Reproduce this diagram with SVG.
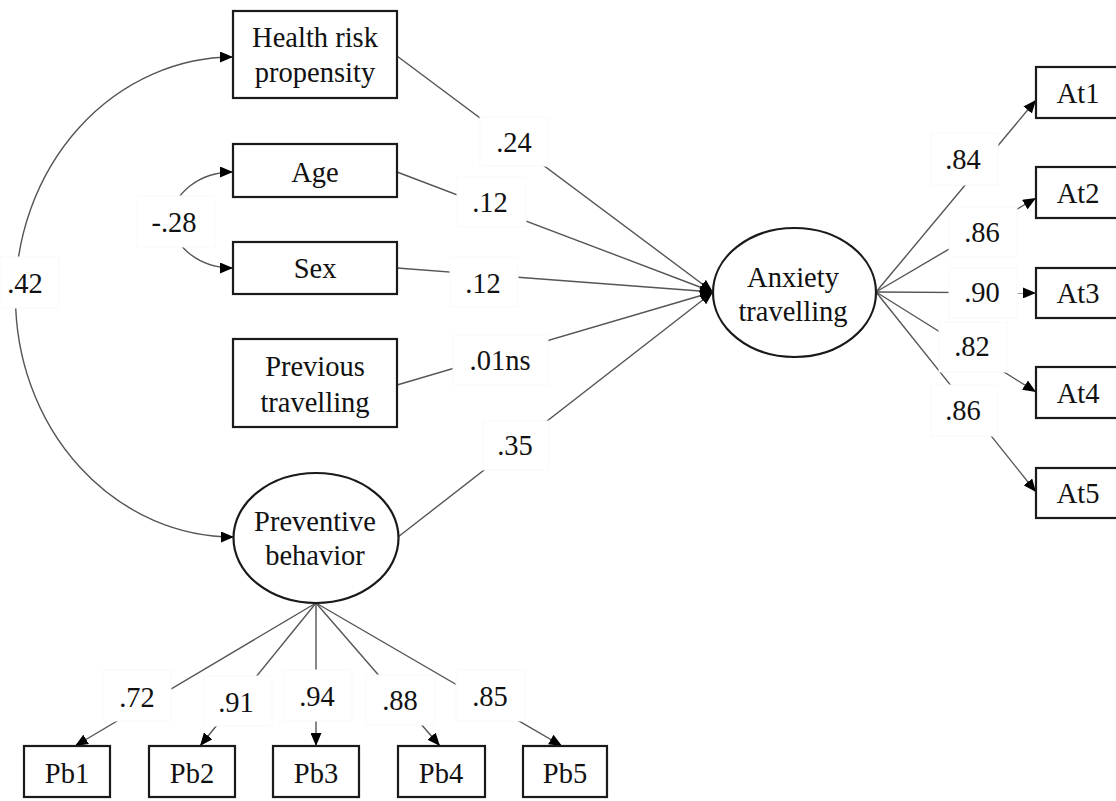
<svg xmlns="http://www.w3.org/2000/svg" width="1116" height="801" viewBox="0 0 1116 801">
<style>
.box{fill:#fff;stroke:#1a1a1a;stroke-width:2.2}
.ell{fill:#fff;stroke:#1a1a1a;stroke-width:2.2}
.t{font-family:"Liberation Serif","Times New Roman",serif;font-size:28.5px;fill:#111;text-anchor:middle}
.c{fill:none;stroke:#555;stroke-width:1.4}
.lb{fill:#fff;stroke:#f9f9f9;stroke-width:1}
</style>
<defs>
<marker id="ah" markerUnits="userSpaceOnUse" markerWidth="14" markerHeight="11" refX="13" refY="5.5" orient="auto-start-reverse">
<path d="M0,0 L13,5.5 L0,11 z" fill="#000"/>
</marker>
</defs>
<rect width="1116" height="801" fill="#fff"/>
<g id="connectors">
<path class="c" d="M233,57 A218,240 0 0 0 234,537" marker-start="url(#ah)" marker-end="url(#ah)"/>
<path class="c" d="M233,172 A61,48 0 0 0 233,268" marker-start="url(#ah)" marker-end="url(#ah)"/>
<line class="c" x1="397" y1="56" x2="713" y2="292" marker-end="url(#ah)"/>
<line class="c" x1="397" y1="172" x2="713" y2="292" marker-end="url(#ah)"/>
<line class="c" x1="397" y1="268" x2="713" y2="292" marker-end="url(#ah)"/>
<line class="c" x1="397" y1="385" x2="713" y2="292" marker-end="url(#ah)"/>
<line class="c" x1="398" y1="537" x2="713" y2="292" marker-end="url(#ah)"/>
<line class="c" x1="876" y1="292" x2="1036" y2="100" marker-end="url(#ah)"/>
<line class="c" x1="876" y1="292" x2="1036" y2="198" marker-end="url(#ah)"/>
<line class="c" x1="876" y1="292" x2="1036" y2="293" marker-end="url(#ah)"/>
<line class="c" x1="876" y1="292" x2="1036" y2="392" marker-end="url(#ah)"/>
<line class="c" x1="876" y1="292" x2="1036" y2="492" marker-end="url(#ah)"/>
<line class="c" x1="316" y1="603" x2="75" y2="746" marker-end="url(#ah)"/>
<line class="c" x1="316" y1="603" x2="200" y2="746" marker-end="url(#ah)"/>
<line class="c" x1="316" y1="603" x2="316" y2="746" marker-end="url(#ah)"/>
<line class="c" x1="316" y1="603" x2="440" y2="746" marker-end="url(#ah)"/>
<line class="c" x1="316" y1="603" x2="562" y2="746" marker-end="url(#ah)"/>
</g>
<g id="labels">
<rect class="lb" x="0" y="257" width="59" height="51"/><text class="t" x="25" y="293">.42</text>
<rect class="lb" x="137" y="196" width="78" height="51"/><text class="t" x="174" y="232">-.28</text>
<rect class="lb" x="480" y="117" width="68" height="49"/><text class="t" x="514" y="152">.24</text>
<rect class="lb" x="457" y="177" width="69" height="50"/><text class="t" x="490" y="212">.12</text>
<rect class="lb" x="450" y="257" width="68" height="50"/><text class="t" x="483" y="293">.12</text>
<rect class="lb" x="453" y="335" width="95" height="50"/><text class="t" x="500" y="370">.01ns</text>
<rect class="lb" x="483" y="421" width="66" height="49"/><text class="t" x="515" y="455">.35</text>
<rect class="lb" x="931" y="133" width="67" height="52"/><text class="t" x="963" y="169">.84</text>
<rect class="lb" x="949" y="207" width="68" height="50"/><text class="t" x="982" y="242">.86</text>
<rect class="lb" x="949" y="268" width="68" height="50"/><text class="t" x="982" y="302">.90</text>
<rect class="lb" x="939" y="322" width="68" height="50"/><text class="t" x="972" y="356">.82</text>
<rect class="lb" x="931" y="385" width="67" height="51"/><text class="t" x="963" y="420">.86</text>
<rect class="lb" x="103" y="670" width="68" height="51"/><text class="t" x="137" y="707">.72</text>
<rect class="lb" x="204" y="676" width="68" height="50"/><text class="t" x="236" y="712">.91</text>
<rect class="lb" x="284" y="670" width="68" height="51"/><text class="t" x="317" y="706">.94</text>
<rect class="lb" x="366" y="675" width="69" height="50"/><text class="t" x="400" y="710">.88</text>
<rect class="lb" x="456" y="670" width="69" height="51"/><text class="t" x="490" y="706">.85</text>
</g>
<g id="health"><rect class="box" x="233" y="11" width="164" height="87"/><text class="t" x="315" y="47">Health risk</text><text class="t" x="315" y="82">propensity</text></g>
<g id="age"><rect class="box" x="233" y="144" width="164" height="53"/><text class="t" x="315" y="182">Age</text></g>
<g id="sex"><rect class="box" x="233" y="242" width="164" height="52"/><text class="t" x="315" y="278">Sex</text></g>
<g id="previous"><rect class="box" x="233" y="339" width="164" height="88"/><text class="t" x="315" y="376">Previous</text><text class="t" x="315" y="412">travelling</text></g>
<g id="preventive"><ellipse class="ell" cx="316" cy="538" rx="82.5" ry="65"/><text class="t" x="315" y="531">Preventive</text><text class="t" x="315" y="565">behavior</text></g>
<g id="anxiety"><ellipse class="ell" cx="794.5" cy="292.5" rx="81.5" ry="64.5"/><text class="t" x="793" y="287">Anxiety</text><text class="t" x="793" y="321">travelling</text></g>
<g id="at1"><rect class="box" x="1036" y="67" width="86" height="51"/><text class="t" x="1078" y="103">At1</text></g>
<g id="at2"><rect class="box" x="1036" y="167" width="86" height="51"/><text class="t" x="1078" y="203">At2</text></g>
<g id="at3"><rect class="box" x="1036" y="268" width="86" height="50"/><text class="t" x="1078" y="303">At3</text></g>
<g id="at4"><rect class="box" x="1036" y="367" width="86" height="51"/><text class="t" x="1078" y="403">At4</text></g>
<g id="at5"><rect class="box" x="1036" y="468" width="86" height="50"/><text class="t" x="1078" y="503">At5</text></g>
<g id="pb1"><rect class="box" x="24" y="746" width="86" height="51"/><text class="t" x="67" y="783">Pb1</text></g>
<g id="pb2"><rect class="box" x="149" y="746" width="86" height="51"/><text class="t" x="192" y="783">Pb2</text></g>
<g id="pb3"><rect class="box" x="273" y="746" width="86" height="51"/><text class="t" x="316" y="783">Pb3</text></g>
<g id="pb4"><rect class="box" x="398" y="746" width="87" height="51"/><text class="t" x="441" y="783">Pb4</text></g>
<g id="pb5"><rect class="box" x="523" y="746" width="84" height="51"/><text class="t" x="565" y="783">Pb5</text></g>
</svg>
